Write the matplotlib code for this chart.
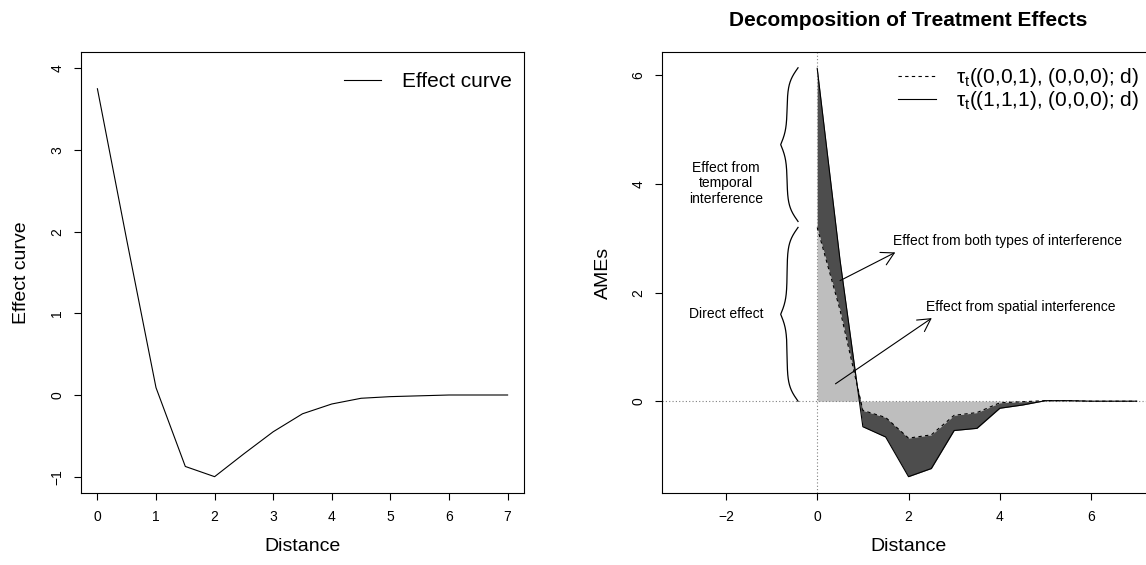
import numpy as np
import matplotlib
matplotlib.use("Agg")
import matplotlib.pyplot as plt

plt.rcParams['font.family'] = ['Liberation Sans', 'DejaVu Sans']
plt.rcParams['mathtext.fontset'] = 'custom'
plt.rcParams['mathtext.rm'] = 'Liberation Sans'
plt.rcParams['mathtext.it'] = 'Liberation Sans:italic'

# data
dist = [0, 0.5, 1, 1.5, 2, 2.5, 3, 3.5, 4, 4.5, 5, 5.5, 6, 6.5, 7]
effect = [3.75, 1.9, 0.09, -0.875, -1.0, -0.72, -0.45, -0.23, -0.11, -0.04, -0.02, -0.01, 0.0, 0.0, 0.0]
tau_001 = [3.20, 1.68, -0.17, -0.30, -0.68, -0.62, -0.26, -0.21, -0.03, -0.01, 0.01, 0.01, 0.0, 0.0, 0.0]
tau_111 = [6.13, 2.6, -0.47, -0.66, -1.39, -1.24, -0.54, -0.50, -0.13, -0.07, 0.01, 0.01, 0.0, 0.0, 0.0]
left_xticks = [0, 1, 2, 3, 4, 5, 6, 7]
left_yticks = [-1, 0, 1, 2, 3, 4]
right_xticks = [-2, 0, 2, 4, 6]
right_yticks = [0, 2, 4, 6]

W, H = 1146, 565
fig = plt.figure(figsize=(W / 100, H / 100), dpi=100)


def rpad(lo, hi):
    r = hi - lo
    return lo - 0.04 * r, hi + 0.04 * r


def style(ax, xt, yt):
    for s in ax.spines.values():
        s.set_linewidth(0.8)
    ax.set_xticks(xt)
    ax.set_yticks(yt)
    ax.tick_params(direction='out', length=5, width=0.8, labelsize=10, pad=7)
    ax.set_xticklabels([str(v).replace('-', '\u2212') for v in xt])
    ax.set_yticklabels([str(v).replace('-', '\u2212') for v in yt], rotation=90, va='center')


# ---- left panel
ax1 = fig.add_axes([81 / W, (H - 493) / H, 443 / W, 441 / H])
ax1.plot(dist, effect, color='black', lw=0.8, label='Effect curve')
ax1.set_xlim(*rpad(0, 7))
ax1.set_ylim(*rpad(-1, 4))
style(ax1, left_xticks, left_yticks)
ax1.set_xlabel('Distance', fontsize=14, labelpad=10)
ax1.set_ylabel('Effect curve', fontsize=14, labelpad=15)
ax1.legend(loc='upper left', bbox_to_anchor=(0.593, 0.955), frameon=False, fontsize=15,
           handlelength=1.8, handletextpad=1.0, borderpad=0, borderaxespad=0)

# ---- right panel
ax2 = fig.add_axes([662 / W, (H - 493) / H, 493 / W, 441 / H])
ax2.fill_between(dist, 0, tau_001, color='#bebebe', lw=0, zorder=1)
ax2.fill_between(dist, tau_001, tau_111, color='#4d4d4d', lw=0, zorder=1)
ax2.axhline(0, color='#808080', lw=0.8, ls=(0, (1, 2)), zorder=2)
ax2.axvline(0, color='#808080', lw=0.8, ls=(0, (1, 2)), zorder=2)
ax2.plot(dist, tau_001, color='black', lw=0.8, ls=(0, (3, 3)), zorder=3,
         label='\u03c4$_{\\mathrm{t}}$((0,0,1), (0,0,0); d)')
ax2.plot(dist, tau_111, color='black', lw=0.8, zorder=3,
         label='\u03c4$_{\\mathrm{t}}$((1,1,1), (0,0,0); d)')
ax2.set_xlim(*rpad(-3, 7))
ax2.set_ylim(*rpad(min(tau_111), max(tau_111)))
style(ax2, right_xticks, right_yticks)
ax2.set_xlabel('Distance', fontsize=14, labelpad=10)
ax2.set_ylabel('AMEs', fontsize=14, labelpad=14)
ax2.set_title('Decomposition of Treatment Effects', fontsize=15, fontweight='bold', pad=19)
ax2.legend(loc='upper left', bbox_to_anchor=(0.479, 0.968), frameon=False, fontsize=15,
           handlelength=1.8, handletextpad=1.0, borderpad=0, borderaxespad=0, labelspacing=0.0)


# curly braces left of the curve
def brace(ax, lo, hi, x_tip, x_sp, x_pt, k=7.0):
    mid = (lo + hi) / 2
    y = np.linspace(lo, hi, 400)
    s = lambda u: 1 / (1 + np.exp(-u))
    up = y >= mid
    x = np.empty_like(y)
    x[up] = x_sp + (x_tip - x_sp) * 2 * s(k * (y[up] - hi)) + (x_pt - x_sp) * 2 * s(k * (mid - y[up]))
    dn = ~up
    x[dn] = x_sp + (x_tip - x_sp) * 2 * s(k * (lo - y[dn])) + (x_pt - x_sp) * 2 * s(k * (y[dn] - mid))
    ax.plot(x, y, color='black', lw=0.9)
    return mid


m1 = brace(ax2, 0, tau_001[0], -0.42, -0.66, -0.80)
m2 = brace(ax2, tau_001[0] + 0.11, tau_111[0] + 0.01, -0.42, -0.66, -0.80)
ax2.text(-2.0, m1, 'Direct effect', ha='center', va='center', fontsize=10)
ax2.text(-2.0, 4.01, 'Effect from\ntemporal\ninterference', ha='center', va='center',
         fontsize=10, linespacing=1.15)

arrow = dict(arrowstyle='->,head_length=0.9,head_width=0.5', lw=0.8, color='black',
             mutation_scale=10, shrinkA=0, shrinkB=0)
ax2.annotate('', xy=(1.71, 2.74), xytext=(0.50, 2.22), arrowprops=arrow, zorder=4)
ax2.annotate('', xy=(2.51, 1.53), xytext=(0.40, 0.32), arrowprops=arrow, zorder=4)
ax2.text(1.67, 2.95, 'Effect from both types of interference', ha='left', va='center', fontsize=10)
ax2.text(2.39, 1.74, 'Effect from spatial interference', ha='left', va='center', fontsize=10)

fig.savefig('out.png', dpi=100)
